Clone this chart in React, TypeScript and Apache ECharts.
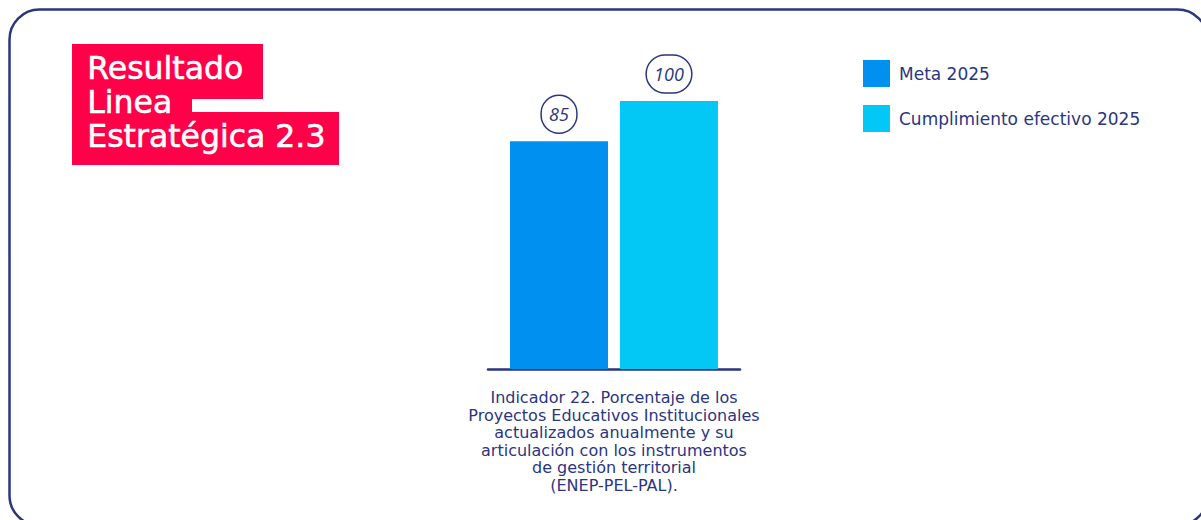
import React, { useEffect, useRef } from "react";
import * as echarts from "echarts";

const categories = [
  "Indicador 22. Porcentaje de los\nProyectos Educativos Institucionales\nactualizados anualmente y su\narticulación con los instrumentos\nde gestión territorial\n(ENEP-PEL-PAL).",
];
const seriesNames = ["Meta 2025", "Cumplimiento efectivo 2025"];
const metaValues = [85];
const cumplimientoValues = [100];
const titleLines = ["Resultado", "Linea", "Estratégica 2.3"];

const NAVY = "#2b3580";
const RED = "#ff0049";

export default function App() {
  const ref = useRef<HTMLDivElement>(null);
  useEffect(() => {
    if (!ref.current) return;
    const chart = echarts.init(ref.current, undefined, { renderer: "svg" });
    const labelCfg = {
      show: true,
      position: "top" as const,
      distance: 8,
      color: NAVY,
      fontStyle: "italic" as const,
      fontSize: 18,
      fontFamily: "Open Sans",
      lineHeight: 20,
      padding: [9, 8, 9, 8],
      borderColor: NAVY,
      borderWidth: 1.5,
      borderRadius: 20,
    };
    chart.setOption({
      animation: false,
      grid: { left: 488, top: 101, width: 252, height: 268 },
      legend: {
        orient: "vertical",
        left: 863,
        top: 60,
        padding: 0,
        itemWidth: 27,
        itemHeight: 27,
        itemGap: 18,
        icon: "rect",
        textStyle: { color: NAVY, fontSize: 17, fontFamily: "DejaVu Sans", padding: [0, 0, 0, 4] },
        data: seriesNames,
      },
      xAxis: {
        type: "category",
        data: categories,
        axisLine: { lineStyle: { color: NAVY, width: 2.5 } },
        axisTick: { show: false },
        axisLabel: {
          color: NAVY,
          fontSize: 16,
          lineHeight: 17.5,
          fontFamily: "DejaVu Sans",
          margin: 20,
          align: "center",
        },
      },
      yAxis: { type: "value", min: 0, max: 100, show: false },
      series: [
        {
          name: seriesNames[0],
          type: "bar",
          data: metaValues,
          barWidth: 98,
          barGap: "12.2%",
          itemStyle: { color: "#0091f0" },
          label: labelCfg,
        },
        {
          name: seriesNames[1],
          type: "bar",
          data: cumplimientoValues,
          barWidth: 98,
          barGap: "12.2%",
          itemStyle: { color: "#03c8f5" },
          label: labelCfg,
        },
      ],
      graphic: [
        {
          type: "rect",
          shape: { x: 9.5, y: 9.5, width: 1198, height: 516, r: 30 },
          style: { fill: "none", stroke: NAVY, lineWidth: 2.5 },
          silent: true,
        },
        { type: "rect", shape: { x: 72, y: 44, width: 191, height: 55 }, style: { fill: RED } },
        { type: "rect", shape: { x: 72, y: 98, width: 120, height: 16 }, style: { fill: RED } },
        { type: "rect", shape: { x: 72, y: 112, width: 267, height: 53 }, style: { fill: RED } },
        ...titleLines.map((t, i) => ({
          type: "text",
          left: 87,
          top: 51 + i * 34,
          style: {
            text: t,
            fill: "#ffffff",
            stroke: "#ffffff",
            lineWidth: 0.6,
            fontSize: 31.5,
            lineHeight: 34,
            fontFamily: "DejaVu Sans",
          },
        })),
      ],
    });
    return () => chart.dispose();
  }, []);
  return (
    <div
      ref={ref}
      style={{ position: "fixed", left: 0, top: 0, width: 1201, height: 520, background: "#fff" }}
    />
  );
}
